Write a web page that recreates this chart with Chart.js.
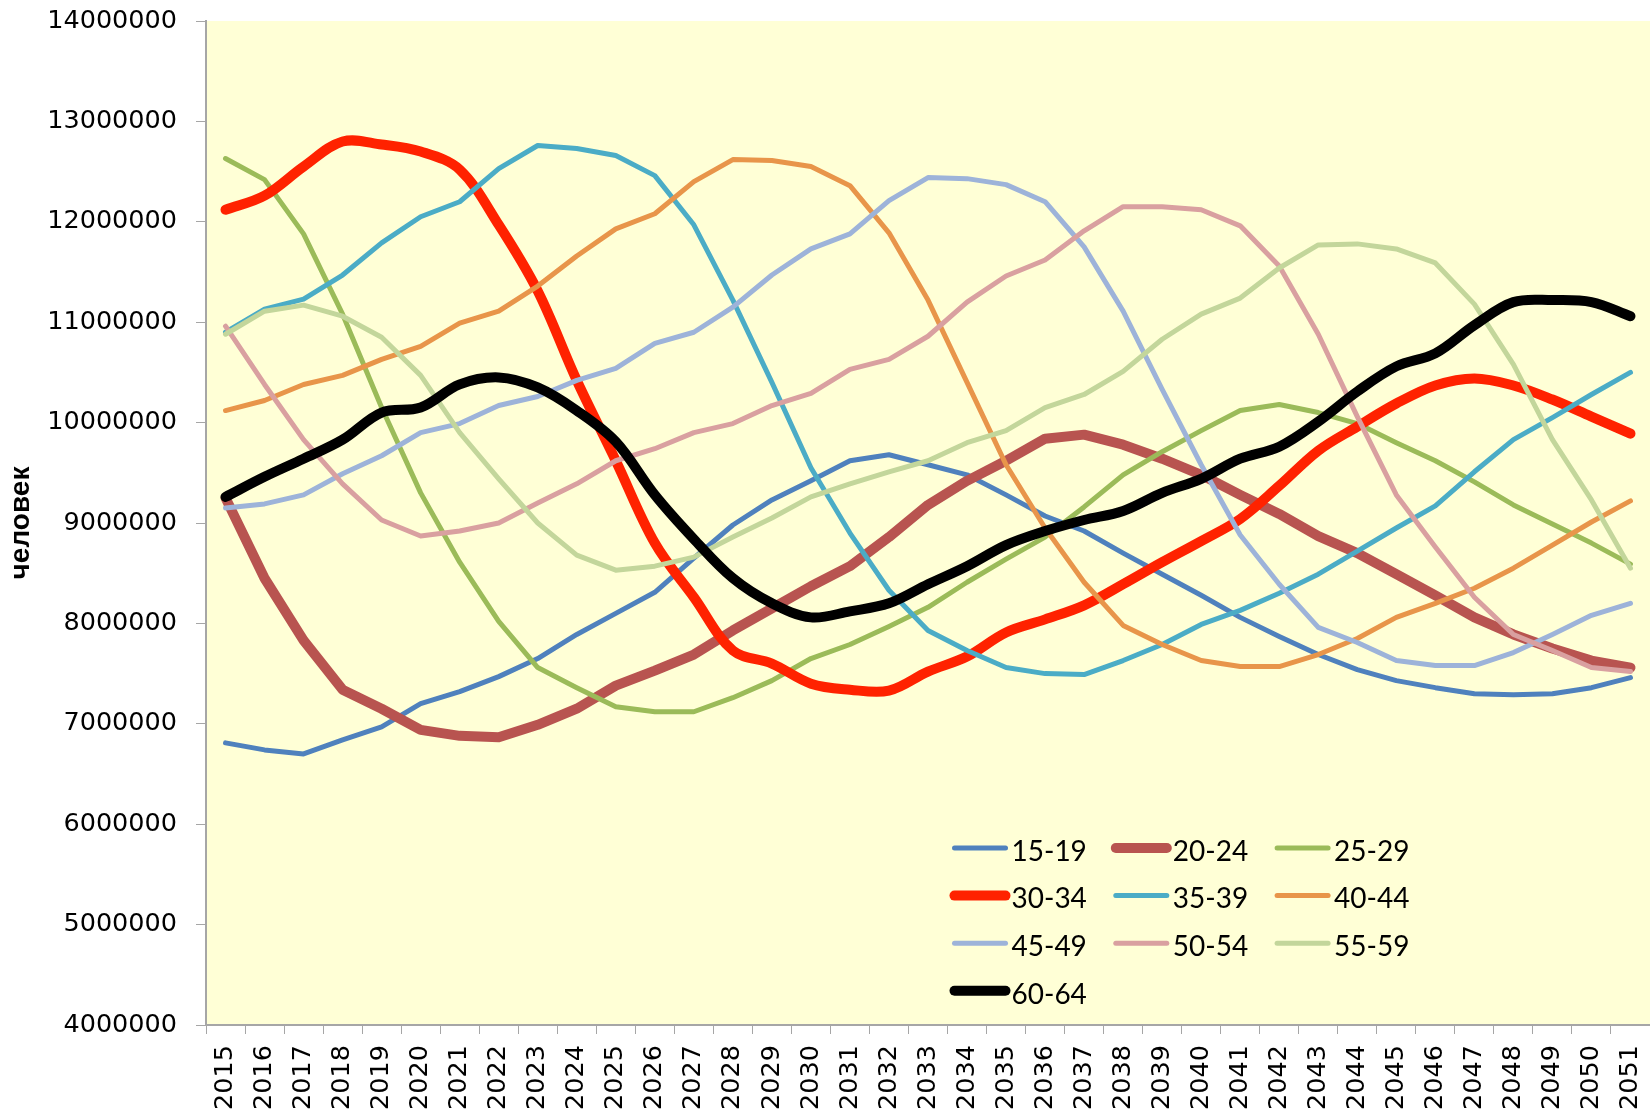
<!DOCTYPE html>
<html>
<head>
<meta charset="utf-8">
<script src="https://cdn.jsdelivr.net/npm/chart.js@4.4.1/dist/chart.umd.min.js"></script>
<style>
  html, body { margin: 0; padding: 0; background: #fff; }
</style>
</head>
<body>
<canvas id="chart" width="1650" height="1112"></canvas>
<script>
// years on the x axis
const years = ['2015', '2016', '2017', '2018', '2019', '2020', '2021', '2022', '2023', '2024',
  '2025', '2026', '2027', '2028', '2029', '2030', '2031', '2032', '2033', '2034',
  '2035', '2036', '2037', '2038', '2039', '2040', '2041', '2042', '2043', '2044',
  '2045', '2046', '2047', '2048', '2049', '2050', '2051'];

// age groups (series names)
const groups = ['15-19', '20-24', '25-29', '30-34', '35-39', '40-44', '45-49', '50-54', '55-59', '60-64'];

// population by age group, persons
const age15_19 = [6810000, 6740000, 6700000, 6840000, 6970000, 7200000, 7320000, 7470000, 7650000, 7890000,
  8100000, 8310000, 8650000, 8980000, 9230000, 9420000, 9620000, 9680000, 9580000, 9480000,
  9280000, 9070000, 8920000, 8700000, 8490000, 8280000, 8060000, 7870000, 7690000, 7540000,
  7430000, 7360000, 7300000, 7290000, 7300000, 7360000, 7460000];
const age20_24 = [9250000, 8450000, 7830000, 7340000, 7150000, 6940000, 6880000, 6865000, 6990000, 7150000,
  7380000, 7530000, 7690000, 7930000, 8150000, 8370000, 8570000, 8860000, 9180000, 9420000,
  9620000, 9840000, 9880000, 9780000, 9640000, 9480000, 9280000, 9090000, 8870000, 8700000,
  8490000, 8280000, 8060000, 7890000, 7750000, 7630000, 7560000];
const age25_29 = [12630000, 12420000, 11880000, 11080000, 10150000, 9300000, 8610000, 8020000, 7560000, 7360000,
  7170000, 7120000, 7120000, 7260000, 7430000, 7650000, 7790000, 7970000, 8160000, 8410000,
  8640000, 8860000, 9160000, 9480000, 9710000, 9920000, 10120000, 10180000, 10100000, 9990000,
  9800000, 9620000, 9410000, 9180000, 8990000, 8800000, 8590000];
const age30_34 = [12120000, 12260000, 12550000, 12800000, 12770000, 12700000, 12520000, 11970000, 11310000, 10420000,
  9620000, 8800000, 8260000, 7730000, 7600000, 7400000, 7340000, 7330000, 7520000, 7670000,
  7910000, 8040000, 8180000, 8390000, 8610000, 8820000, 9040000, 9370000, 9720000, 9960000,
  10190000, 10370000, 10440000, 10370000, 10230000, 10060000, 9890000];
const age35_39 = [10900000, 11130000, 11230000, 11470000, 11790000, 12050000, 12200000, 12530000, 12760000, 12730000,
  12660000, 12460000, 11970000, 11220000, 10400000, 9550000, 8900000, 8330000, 7930000, 7730000,
  7560000, 7500000, 7490000, 7630000, 7790000, 7990000, 8130000, 8300000, 8490000, 8720000,
  8950000, 9170000, 9510000, 9830000, 10050000, 10280000, 10500000];
const age40_44 = [10120000, 10220000, 10380000, 10470000, 10630000, 10760000, 10990000, 11110000, 11360000, 11660000,
  11930000, 12080000, 12400000, 12620000, 12610000, 12550000, 12360000, 11890000, 11220000, 10400000,
  9580000, 8950000, 8410000, 7980000, 7790000, 7630000, 7570000, 7570000, 7690000, 7850000,
  8060000, 8200000, 8350000, 8550000, 8780000, 9010000, 9220000];
const age45_49 = [9150000, 9190000, 9280000, 9490000, 9670000, 9900000, 9990000, 10170000, 10260000, 10420000,
  10540000, 10790000, 10900000, 11150000, 11470000, 11730000, 11880000, 12210000, 12440000, 12430000,
  12370000, 12200000, 11750000, 11110000, 10330000, 9580000, 8880000, 8390000, 7960000, 7810000,
  7630000, 7580000, 7580000, 7710000, 7890000, 8080000, 8200000];
const age50_54 = [10960000, 10380000, 9830000, 9390000, 9030000, 8870000, 8920000, 9000000, 9200000, 9390000,
  9620000, 9740000, 9900000, 9990000, 10170000, 10290000, 10530000, 10630000, 10860000, 11200000,
  11460000, 11620000, 11910000, 12150000, 12150000, 12120000, 11960000, 11560000, 10880000, 10060000,
  9280000, 8760000, 8260000, 7890000, 7730000, 7560000, 7520000];
const age55_59 = [10880000, 11110000, 11170000, 11060000, 10850000, 10470000, 9900000, 9440000, 9000000, 8680000,
  8530000, 8570000, 8660000, 8860000, 9050000, 9260000, 9390000, 9510000, 9620000, 9800000,
  9920000, 10150000, 10280000, 10510000, 10830000, 11080000, 11240000, 11540000, 11770000, 11780000,
  11730000, 11590000, 11180000, 10580000, 9830000, 9230000, 8550000];
const age60_64 = [9260000, 9460000, 9640000, 9830000, 10100000, 10150000, 10380000, 10450000, 10350000, 10120000,
  9810000, 9280000, 8840000, 8450000, 8200000, 8060000, 8120000, 8200000, 8390000, 8570000,
  8780000, 8920000, 9030000, 9120000, 9300000, 9440000, 9640000, 9760000, 10010000, 10310000,
  10560000, 10690000, 10970000, 11200000, 11220000, 11200000, 11060000];

// y axis range
const yMin = 4000000;
const yMax = 14000000;
const yStep = 1000000;

const seriesValues = [age15_19, age20_24, age25_29, age30_34, age35_39, age40_44, age45_49, age50_54, age55_59, age60_64];
const colors = ['#4F81BD', '#B85450', '#9BBB59', '#FF2200', '#4BACC6', '#E8954A', '#9DB3D9', '#D9A0A0', '#C3D69B', '#000000'];
const widths = [5, 10, 5, 10, 5, 5, 5, 5, 5, 10];
const smooth = [0, 0, 0, 0.35, 0, 0, 0, 0, 0, 0.35];

const datasets = groups.map((name, i) => ({
  label: name,
  data: seriesValues[i],
  borderColor: colors[i],
  backgroundColor: colors[i],
  borderWidth: widths[i],
  tension: smooth[i],
  pointRadius: 0,
  borderCapStyle: 'round',
  borderJoinStyle: 'round',
  fill: false,
  order: groups.length - i   // later series on top, like Excel
}));

// yellow plot area
const plotBackground = {
  id: 'plotBackground',
  beforeDraw(chart) {
    const a = chart.chartArea;
    const ctx = chart.ctx;
    ctx.save();
    ctx.fillStyle = '#FFFFD6';
    ctx.fillRect(a.left, a.top, a.right - a.left, a.bottom - a.top);
    ctx.restore();
  }
};

// legend drawn inside the plot, 3 columns
const insideLegend = {
  id: 'insideLegend',
  afterDatasetsDraw(chart) {
    const ctx = chart.ctx;
    ctx.save();
    chart.data.datasets.forEach((ds, i) => {
      const col = i % 3;
      const row = Math.floor(i / 3);
      const x = 954.5 + col * 161.3;
      const y = 848 + row * 47.6;
      ctx.strokeStyle = ds.borderColor;
      ctx.lineWidth = ds.borderWidth;
      ctx.lineCap = 'round';
      ctx.beginPath();
      ctx.moveTo(x, y);
      ctx.lineTo(x + 51, y);
      ctx.stroke();
      ctx.fillStyle = '#000';
      ctx.font = '28px Lato';
      ctx.textAlign = 'left';
      ctx.textBaseline = 'alphabetic';
      ctx.fillText(ds.label, x + 57, y + 12.7);
    });
    ctx.restore();
  }
};

// fixed axis boxes so the plot area sits where the original has it
function noPadding(scale) {
  scale.paddingLeft = 0;
  scale.paddingRight = 0;
  scale.paddingTop = 0;
  scale.paddingBottom = 0;
}

new Chart(document.getElementById('chart'), {
  type: 'line',
  data: { labels: years, datasets: datasets },
  options: {
    responsive: false,
    animation: false,
    devicePixelRatio: 1,
    layout: { padding: { top: 21, right: 0, bottom: 0, left: 0 } },
    plugins: {
      legend: { display: false },
      tooltip: { enabled: false }
    },
    scales: {
      x: {
        offset: true,
        grid: { offset: true, drawOnChartArea: false, drawTicks: true, tickLength: 9, color: '#A6A6A6' },
        border: { color: '#A6A6A6', width: 2 },
        ticks: {
          autoSkip: false,
          minRotation: 90,
          maxRotation: 90,
          padding: 11,
          color: '#000',
          font: { family: 'DejaVu Sans', size: 25.5 }
        },
        afterFit(scale) { scale.height = 87; noPadding(scale); }
      },
      y: {
        min: yMin,
        max: yMax,
        grid: { drawOnChartArea: false, drawTicks: true, tickLength: 10, color: '#A6A6A6' },
        border: { color: '#A6A6A6', width: 2 },
        ticks: {
          stepSize: yStep,
          padding: 19,
          color: '#000',
          font: { family: 'DejaVu Sans', size: 25.5 },
          callback: v => String(v)
        },
        title: {
          display: true,
          text: 'человек',
          color: '#000',
          padding: { top: 4, bottom: 0 },
          font: { family: 'Liberation Sans', size: 28, weight: 'bold' }
        },
        afterFit(scale) { scale.width = 206; noPadding(scale); }
      }
    }
  },
  plugins: [plotBackground, insideLegend]
});
</script>
</body>
</html>
